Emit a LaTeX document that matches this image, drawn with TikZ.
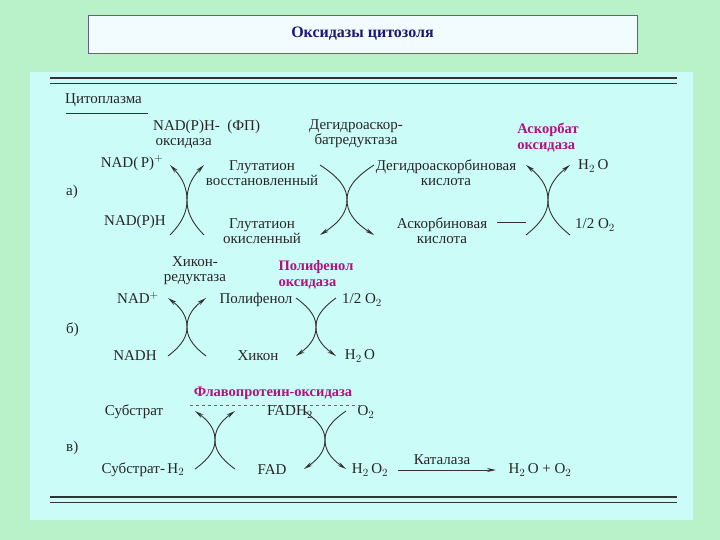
\documentclass[tikz,border=0pt]{standalone}
\usepackage{fontspec}
\setmainfont{Liberation Serif}
\usetikzlibrary{arrows.meta}
\definecolor{bg}{HTML}{B9F2C9}
\definecolor{panel}{HTML}{CCFCF8}
\definecolor{navy}{HTML}{1A1A6E}
\definecolor{mag}{HTML}{B0127E}
\newcommand\XTop[4]{% cx cy w h, arrows at top
\draw[cur] (#1-#3,#2+#4) .. controls (#1-0.2*#3,#2+0.6*#4) and (#1,#2+0.3*#4) .. (#1,#2) .. controls (#1,#2-0.3*#4) and (#1-0.2*#3,#2-0.6*#4) .. (#1-#3,#2-#4);
\draw[cur] (#1+#3,#2+#4) .. controls (#1+0.2*#3,#2+0.6*#4) and (#1,#2+0.3*#4) .. (#1,#2) .. controls (#1,#2-0.3*#4) and (#1+0.2*#3,#2-0.6*#4) .. (#1+#3,#2-#4);}
\newcommand\XBot[4]{%
\draw[cur] (#1-#3,#2-#4) .. controls (#1-0.2*#3,#2-0.6*#4) and (#1,#2-0.3*#4) .. (#1,#2) .. controls (#1,#2+0.3*#4) and (#1-0.2*#3,#2+0.6*#4) .. (#1-#3,#2+#4);
\draw[cur] (#1+#3,#2-#4) .. controls (#1+0.2*#3,#2-0.6*#4) and (#1,#2-0.3*#4) .. (#1,#2) .. controls (#1,#2+0.3*#4) and (#1+0.2*#3,#2+0.6*#4) .. (#1+#3,#2+#4);}
\begin{document}
\begin{tikzpicture}[x=1pt,y=-1pt,
  t/.style={font=\fontsize{15}{15}\selectfont,inner sep=0pt,align=center,text=black!85},
  m/.style={font=\fontsize{14.5}{16}\selectfont\bfseries,inner sep=0pt,align=left,text=mag},
  cur/.style={line width=0.9pt,black!80,-{Stealth[length=9pt,width=4pt]}},
  ln/.style={line width=0.9pt,black!80}]
\fill[bg] (0,0) rectangle (720,540);
\useasboundingbox (0,0) rectangle (720,540);
\fill[panel] (30,72) rectangle (693,520);
\node[draw=navy!70,fill=white!95!cyan,minimum width=549pt,minimum height=38pt,inner sep=0pt,font=\fontsize{16}{18}\selectfont\bfseries,text=navy] (title) at (362.5,34) {Оксидазы цитозоля};
\draw[line width=2pt,black!80] (50,78) -- (677,78);
\draw[line width=0.8pt,black!80] (50,83) -- (677,83);
\draw[line width=2pt,black!80] (50,497) -- (677,497);
\draw[line width=0.8pt,black!80] (50,502) -- (677,502);
\node[t,anchor=west] (cyto) at (65,100) {Цитоплазма};
\draw[ln] (66,113) -- (148,113);
% row a
\node[t,anchor=west] (a) at (66,192) {а)};
\node[t,anchor=west,align=left] (nox) at (153,134) {NAD(P)H-\enspace(ФП)\\\,оксидаза};
\node[t] (dgr) at (356,134) {Дегидроаскор-\\батредуктаза};
\node[m] (asc) at (548,138) {Аскорбат\\оксидаза};
\node[t] (nadp) at (132,163) {NAD(\,P)$^{+}$};
\node[t] (nadph) at (135,222) {NAD(P)H};
\node[t] (gvos) at (262,173) {Глутатион\\восстановленный};
\node[t] (gok) at (262,231) {Глутатион\\окисленный};
\node[t] (dak) at (446,173) {Дегидроаскорбиновая\\кислота};
\node[t] (ak) at (442,231) {Аскорбиновая\\кислота};
\node[t,anchor=west] (h2oa) at (578,166) {H$_2$\,O};
\node[t,anchor=west] (o2a) at (575,225) {1/2 O$_2$};
\XTop{187}{200}{17}{35}
\XBot{347}{200}{27}{35}
\XTop{548}{200}{22}{35}
\draw[ln] (497,222) -- (526,222);
% row b
\node[t,anchor=west] (b) at (66,330) {б)};
\node[t] (hr) at (195,271) {Хикон-\\редуктаза};
\node[m] (pfo) at (316,275) {Полифенол\\оксидаза};
\node[t] (nad) at (138,298) {NAD$^{+}$};
\node[t] (nadh) at (135,356) {NADH};
\node[t] (pf) at (256,300) {Полифенол};
\node[t] (hk) at (258,356) {Хикон};
\node[t] (o2b) at (362,300) {1/2 O$_2$};
\node[t] (h2ob) at (360,356) {H$_2$\,O};
\XTop{187}{327}{19}{29}
\XBot{316}{327}{20}{29}
% row c
\node[t,anchor=west] (c) at (66,448) {в)};
\node[m] (fpo) at (273,393) {Флавопротеин-оксидаза};
\draw[dashed,black!60] (190,405) -- (360,405);
\node[t] (sub) at (134,412) {Субстрат};
\node[t] (subh) at (143,470) {Субстрат-\,H$_2$};
\node[t] (fadh) at (290,412) {FADH$_2$};
\node[t] (o2c) at (366,412) {O$_2$};
\node[t] (fad) at (272,470) {FAD};
\node[t] (h2o2) at (370,470) {H$_2$\,O$_2$};
\node[t] (kat) at (442,460) {Каталаза};
\node[t] (prod) at (540,470) {H$_2$\,O + O$_2$};
\XTop{215}{440}{20}{29}
\XBot{325}{440}{21}{29}
\draw[ln,-{Stealth[length=9pt,width=4pt]}] (h2o2.east) ++(10,0) -- (496,470);
\end{tikzpicture}
\end{document}
